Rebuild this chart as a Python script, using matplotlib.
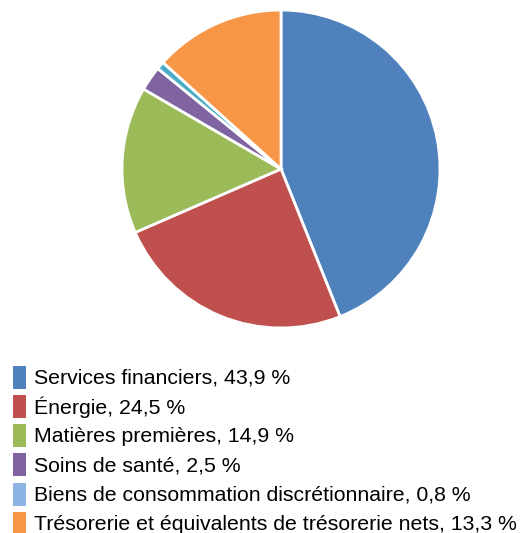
import matplotlib
matplotlib.use("Agg")
import matplotlib.pyplot as plt
from matplotlib.patches import Rectangle

plt.rcParams['font.family'] = ['Liberation Sans', 'DejaVu Sans']

labels = ["Services financiers", "Énergie", "Matières premières", "Soins de santé",
          "Biens de consommation discrétionnaire", "Trésorerie et équivalents de trésorerie nets"]
values = [43.9, 24.5, 14.9, 2.5, 0.8, 13.3]
value_text = ["43,9", "24,5", "14,9", "2,5", "0,8", "13,3"]
pie_colors = ["#4F81BD", "#C0504D", "#9BBB59", "#8064A2", "#4BACC6", "#F79646"]
legend_colors = ["#4F81BD", "#C0504D", "#9BBB59", "#8064A2", "#8DB4E2", "#F79646"]

W, H = 527, 533
fig = plt.figure(figsize=(W/100, H/100), dpi=100)

# pie, center ~ (281,168) px, radius ~158 px
cx, cy, r = 281, 169, 159
ax = fig.add_axes([(cx-r)/W, (H-cy-r)/H, 2*r/W, 2*r/H])
ax.pie(values, colors=pie_colors, startangle=90, counterclock=False,
       wedgeprops=dict(edgecolor="white", linewidth=2))
ax.set_xlim(-1, 1)
ax.set_ylim(-1, 1)
ax.set_aspect("auto")
ax.axis("off")

# legend drawn in pixel coords
lg = fig.add_axes([0, 0, 1, 1])
lg.set_xlim(0, W)
lg.set_ylim(H, 0)
lg.axis("off")
y0, step = 377, 29.3
for i, (lab, val) in enumerate(zip(labels, value_text)):
    y = y0 + i*step
    lg.add_patch(Rectangle((13, y-11.5), 13, 23, facecolor=legend_colors[i], edgecolor="none"))
    lg.text(34, y+1, f"{lab}, {val} %", fontsize=15.3, va="center", ha="left", color="black")

fig.savefig("out.png", dpi=100)
